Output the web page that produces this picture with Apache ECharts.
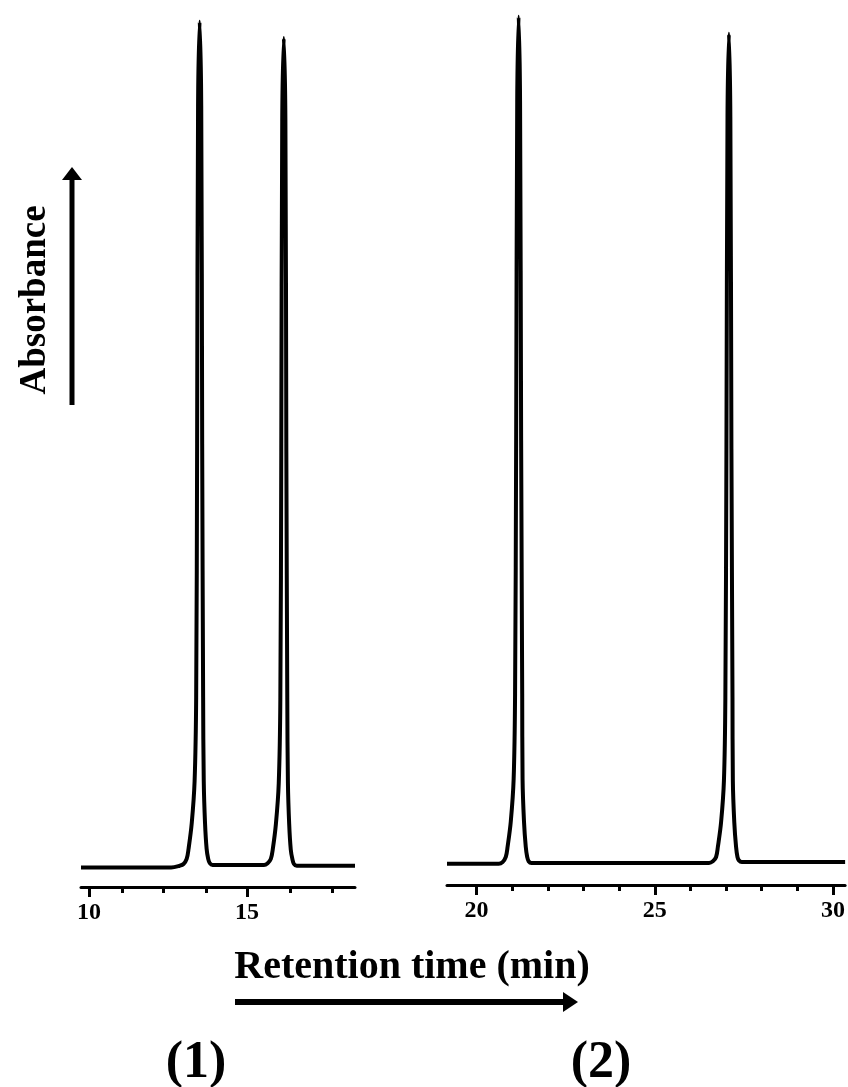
<!DOCTYPE html>
<html>
<head>
<meta charset="utf-8">
<script src="https://cdn.jsdelivr.net/npm/echarts@6/dist/echarts.min.js"></script>
<style>
  html, body { margin: 0; padding: 0; background: #fff; }
  #chart { width: 848px; height: 1087px; }
</style>
</head>
<body>
<div id="chart"></div>
<script>
// run (1): retention time (min) and absorbance
const run1Time = [9.75, 12.6, 12.87, 12.99, 13.09, 13.15, 13.25, 13.34, 13.39, 13.42, 13.45, 13.50,
  13.55, 13.58, 13.61, 13.63, 13.67, 13.72, 13.77, 13.82, 13.91, 15.53, 15.65, 15.75, 15.81, 15.91,
  16.00, 16.05, 16.08, 16.11, 16.16, 16.21, 16.24, 16.27, 16.29, 16.33, 16.38, 16.43, 16.48, 16.57, 18.41]
const run1Abs = [-0.2, -0.2, 0, 0.2, 0.8, 2.0, 5.0, 9.9, 19.8, 49.6, 89.3, 99.2,
  89.3, 49.6, 19.8, 9.9, 5.0, 2.0, 0.8, 0.3, 0.1, 0.1, 0.3, 0.8, 1.9, 4.9,
  9.7, 19.5, 48.7, 87.6, 97.3, 87.6, 48.7, 19.5, 9.7, 4.9, 1.9, 0.8, 0.2, 0, 0]

// run (2)
const run2Time = [19.17, 20.62, 20.73, 20.82, 20.87, 20.96, 21.04, 21.08, 21.11, 21.14, 21.18,
  21.22, 21.25, 21.28, 21.29, 21.33, 21.38, 21.42, 21.46, 21.54, 26.52, 26.63, 26.72, 26.77, 26.86,
  26.94, 26.98, 27.01, 27.04, 27.08, 27.12, 27.15, 27.18, 27.19, 27.23, 27.28, 27.32, 27.36, 27.44, 30.34]
const run2Abs = [0, 0, 0.2, 0.8, 2.0, 5.0, 10.0, 20.0, 49.9, 89.8, 99.8,
  89.8, 49.9, 20.0, 10.0, 5.0, 2.0, 0.8, 0.3, 0.1, 0.1, 0.3, 0.8, 2.0, 4.9,
  9.8, 19.6, 48.9, 88.0, 97.8, 88.0, 48.9, 19.6, 9.8, 4.9, 2.0, 0.8, 0.4, 0.2, 0.2]

// axis ticks
const run1Labels = [10, 15]
const run1MinorTicks = [11.05, 12.35, 13.7, 16.35, 17.7]
const run2Labels = [20, 25, 30]
const run2MinorTicks = [21, 22, 23, 24, 26, 27, 28, 29]

const serif = 'Liberation Serif'

function pairs(xs, ys) {
  return xs.map((x, i) => [x, ys[i]])
}

function majorAxis(gridIndex, min, max, labels) {
  return {
    type: 'value',
    gridIndex,
    position: 'bottom',
    min,
    max,
    splitLine: { show: false },
    axisLine: { show: true, onZero: false, lineStyle: { color: '#000', width: 3 } },
    axisTick: { show: true, inside: false, customValues: labels, length: 10, lineStyle: { color: '#000', width: 3 } },
    axisLabel: {
      customValues: labels,
      color: '#000',
      fontFamily: serif,
      fontWeight: 'bold',
      fontSize: 24,
      margin: 14
    }
  }
}

function minorAxis(gridIndex, min, max, ticks) {
  return {
    type: 'value',
    gridIndex,
    position: 'bottom',
    offset: 0,
    min,
    max,
    splitLine: { show: false },
    axisLine: { show: false, onZero: false },
    axisTick: { show: true, inside: false, customValues: ticks, length: 6, lineStyle: { color: '#000', width: 3 } },
    axisLabel: { show: false }
  }
}

function yAxis(gridIndex) {
  return { type: 'value', gridIndex, min: -2.5, max: 100, show: false }
}

function trace(xAxisIndex, yAxisIndex, data) {
  return {
    type: 'line',
    xAxisIndex,
    yAxisIndex,
    data,
    showSymbol: false,
    smooth: 0.35,
    clip: false,
    lineStyle: { color: '#000', width: 4, join: 'round' }
  }
}

const chart = echarts.init(document.getElementById('chart'))

const option = {
  backgroundColor: '#fff',
  animation: false,
  grid: [
    { left: 81, right: 493, top: 15, bottom: 200 },
    { left: 447, right: 0, top: 15, bottom: 202 }
  ],
  xAxis: [
    majorAxis(0, 9.75, 18.41, run1Labels),
    minorAxis(0, 9.75, 18.41, run1MinorTicks),
    majorAxis(1, 19.17, 30.34, run2Labels),
    minorAxis(1, 19.17, 30.34, run2MinorTicks)
  ],
  yAxis: [yAxis(0), yAxis(1)],
  series: [
    trace(0, 0, pairs(run1Time, run1Abs)),
    trace(2, 1, pairs(run2Time, run2Abs))
  ],
  graphic: [
    {
      type: 'text',
      x: 35, y: 300,
      rotation: Math.PI / 2,
      style: {
        text: 'Absorbance',
        fill: '#000',
        font: 'bold 37px "Liberation Serif"',
        align: 'center',
        verticalAlign: 'middle'
      }
    },
    { type: 'line', shape: { x1: 72, y1: 405, x2: 72, y2: 176 }, style: { stroke: '#000', lineWidth: 5 } },
    { type: 'polygon', shape: { points: [[72, 167], [62, 180], [82, 180]] }, style: { fill: '#000' } },
    {
      type: 'text',
      x: 412, y: 968,
      style: {
        text: 'Retention time (min)',
        fill: '#000',
        font: 'bold 40px "Liberation Serif"',
        align: 'center',
        verticalAlign: 'middle'
      }
    },
    { type: 'line', shape: { x1: 235, y1: 1002, x2: 566, y2: 1002 }, style: { stroke: '#000', lineWidth: 6 } },
    { type: 'polygon', shape: { points: [[578, 1002], [563, 992], [563, 1012]] }, style: { fill: '#000' } },
    {
      type: 'text',
      x: 196, y: 1064,
      style: { text: '(1)', fill: '#000', font: 'bold 52px "Liberation Serif"', align: 'center', verticalAlign: 'middle' }
    },
    {
      type: 'text',
      x: 601, y: 1064,
      style: { text: '(2)', fill: '#000', font: 'bold 52px "Liberation Serif"', align: 'center', verticalAlign: 'middle' }
    }
  ]
}

chart.setOption(option)
</script>
</body>
</html>
